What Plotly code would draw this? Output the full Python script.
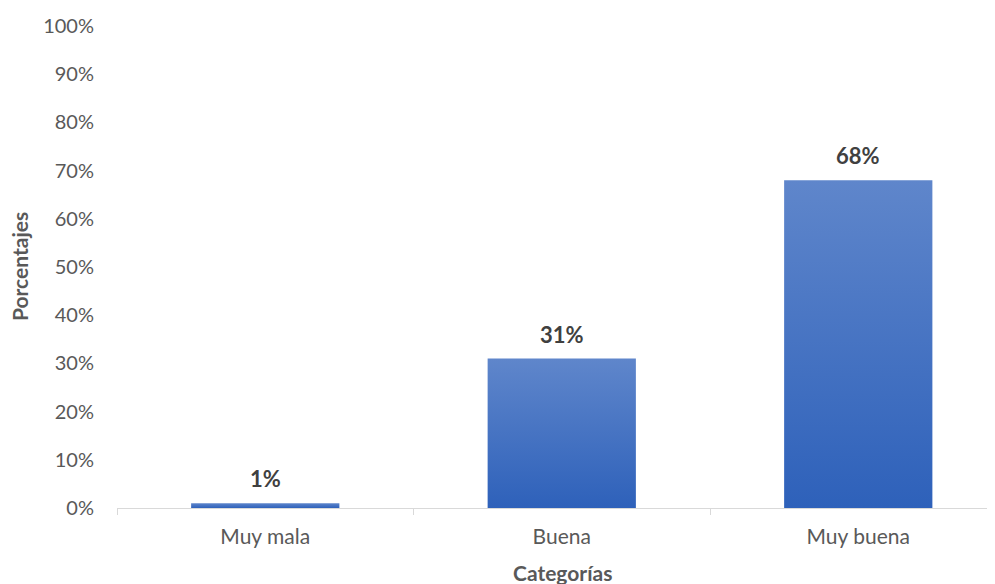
import plotly.graph_objects as go

categories = ["Muy mala", "Buena", "Muy buena"]
values = [1, 31, 68]
y_ticks = list(range(0, 101, 10))
y_labels = [f"{t}%" for t in y_ticks]

FONT = "Lato"
GREY = "#595959"
# the page body adds an 8px offset; size the figure so it fits the window
OFF = 8
W, H = 995 - OFF, 584 - OFF
L, R, T, B = 117 - OFF, 2, 26 - OFF, 584 - 508
fig = go.Figure()

half = 0.25
for i, (c, v) in enumerate(zip(categories, values)):
    xs = [i - half, i + half, i + half, i - half, i - half]
    ys = [0, 0, v, v, 0]
    fig.add_trace(go.Scatter(
        x=xs, y=ys, mode="lines", fill="toself",
        line=dict(width=0, color="rgba(0,0,0,0)"),
        fillcolor="#4472C4",
        fillgradient=dict(type="vertical",
                          colorscale=[[0, "#2E61BA"], [1, "#5F86CB"]]),
        hoverinfo="skip", showlegend=False, name=c,
    ))

annotations = []
for i, v in enumerate(values):
    annotations.append(dict(
        x=i, y=v, xref="x", yref="y", text=f"<b>{v}%</b>", showarrow=False,
        yanchor="bottom", xanchor="center", yshift=9,
        font=dict(family=FONT, size=22, color="#404040"),
    ))

plot_w = W - L - R
plot_h = H - T - B
annotations += [
    dict(text="<b>Categorías</b>", xref="paper", yref="paper",
         x=(562 - 117) / plot_w, y=-(572 - 508) / plot_h,
         showarrow=False, font=dict(family=FONT, size=21, color=GREY),
         xanchor="center", yanchor="middle"),
    dict(text="<b>Porcentajes</b>", xref="paper", yref="paper",
         x=-(117 - 19) / plot_w, y=(508 - 267) / plot_h, textangle=-90,
         showarrow=False, font=dict(family=FONT, size=21, color=GREY),
         xanchor="center", yanchor="middle"),
]

fig.update_layout(
    width=W, height=H,
    margin=dict(l=L, r=R, t=T, b=B),
    paper_bgcolor="white", plot_bgcolor="white",
    font=dict(family=FONT, size=22, color=GREY),
    xaxis=dict(
        range=[-0.5, -0.5 + plot_w / 296.5],
        tickmode="array", tickvals=list(range(len(categories))), ticktext=categories,
        ticks="", showgrid=False, zeroline=False, automargin=False,
        showline=True, linecolor="#D9D9D9", linewidth=1,
        minor=dict(tickmode="array", tickvals=[-0.5, 0.5, 1.5, 2.5], ticks="outside",
                   ticklen=6, tickcolor="#D9D9D9", tickwidth=1, showgrid=False),
        tickfont=dict(family=FONT, size=21, color=GREY),
        ticklabelstandoff=10,
        fixedrange=True,
    ),
    yaxis=dict(
        range=[0, 100], tickmode="array", tickvals=y_ticks, ticktext=y_labels,
        showgrid=False, zeroline=False, showline=False, ticks="", automargin=False,
        tickfont=dict(family=FONT, size=20, color=GREY),
        ticklabelstandoff=22, fixedrange=True,
    ),
    annotations=annotations,
)

fig.write_html("out.html")
